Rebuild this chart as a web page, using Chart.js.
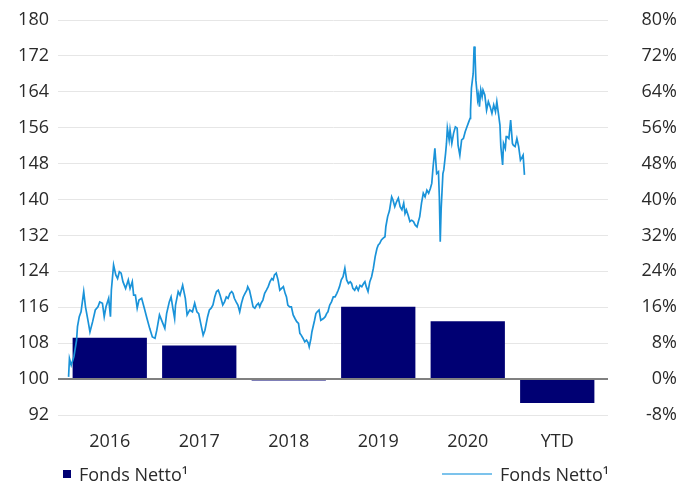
<!DOCTYPE html>
<html>
<head>
<meta charset="utf-8">
<script src="https://cdn.jsdelivr.net/npm/chart.js@4/dist/chart.umd.min.js"></script>
<style>
  html, body { margin: 0; padding: 0; background: #ffffff; }
  #wrap { position: relative; width: 677px; height: 489px; }
  #legend { position: absolute; left: 0; top: 462px; width: 677px; height: 24px;
            font: 18px 'Open Sans', sans-serif; color: #2a2a2a; }
  .item { position: absolute; top: 0; height: 24px; display: flex; align-items: center; white-space: nowrap; }
  .sq { display: inline-block; width: 8px; height: 8px; background: #000073; margin-right: 8px; }
  .ln { display: inline-block; width: 50px; height: 2.5px; background: #7cc3ec; margin-right: 8px; }
</style>
</head>
<body>
<div id="wrap">
  <canvas id="c" width="677" height="489"></canvas>
  <div id="legend"></div>
</div>
<script>
// Calendar-year returns of the fund, in percent (right axis)
const categories = ['2016', '2017', '2018', '2019', '2020', 'YTD'];
const yearlyReturn = [9.2, 7.5, -0.3, 16.1, 12.9, -5.3];

// Indexed fund value (start = 100, left axis), positioned by fractional year
const lineYear = [
  2016.04, 2016.05, 2016.07, 2016.10, 2016.13, 2016.14, 2016.16, 2016.18, 2016.21, 2016.23,
  2016.26, 2016.28, 2016.31, 2016.34, 2016.37, 2016.39, 2016.42, 2016.44, 2016.46, 2016.49,
  2016.51, 2016.52, 2016.545, 2016.57, 2016.59, 2016.61, 2016.63, 2016.65, 2016.68, 2016.71,
  2016.73, 2016.755, 2016.77, 2016.79, 2016.81, 2016.83, 2016.86, 2016.89, 2016.92, 2016.95,
  2016.98, 2017.01, 2017.03, 2017.06, 2017.09, 2017.12, 2017.14, 2017.17, 2017.19, 2017.21,
  2017.23, 2017.24, 2017.27, 2017.29, 2017.32, 2017.35, 2017.37, 2017.40, 2017.43, 2017.455,
  2017.48, 2017.50, 2017.53, 2017.55, 2017.57, 2017.60, 2017.62, 2017.64, 2017.66, 2017.68,
  2017.70, 2017.72, 2017.74, 2017.755, 2017.77, 2017.79, 2017.81, 2017.83, 2017.85, 2017.87,
  2017.885, 2017.90, 2017.92, 2017.94, 2017.96, 2017.98, 2018.00, 2018.02, 2018.04, 2018.05,
  2018.07, 2018.09, 2018.11, 2018.13, 2018.15, 2018.17, 2018.185, 2018.20, 2018.22, 2018.24,
  2018.26, 2018.28, 2018.30, 2018.32, 2018.335, 2018.35, 2018.37, 2018.39, 2018.41, 2018.45,
  2018.47, 2018.485, 2018.50, 2018.52, 2018.54, 2018.56, 2018.58, 2018.60, 2018.62, 2018.635,
  2018.65, 2018.67, 2018.69, 2018.71, 2018.73, 2018.74, 2018.76, 2018.77, 2018.80, 2018.815,
  2018.83, 2018.85, 2018.87, 2018.90, 2018.92, 2018.935, 2018.95, 2018.97, 2018.99, 2019.01,
  2019.03, 2019.05, 2019.065, 2019.08, 2019.10, 2019.12, 2019.14, 2019.16, 2019.18, 2019.20,
  2019.215, 2019.23, 2019.25, 2019.27, 2019.29, 2019.31, 2019.33, 2019.35, 2019.365, 2019.38,
  2019.40, 2019.42, 2019.44, 2019.46, 2019.48, 2019.50, 2019.515, 2019.53, 2019.55, 2019.57,
  2019.59, 2019.60, 2019.62, 2019.64, 2019.665, 2019.68, 2019.70, 2019.72, 2019.74, 2019.76,
  2019.78, 2019.80, 2019.815, 2019.83, 2019.85, 2019.87, 2019.89, 2019.91, 2019.93, 2019.95,
  2019.965, 2019.98, 2020.00, 2020.02, 2020.04, 2020.06, 2020.08, 2020.10, 2020.115, 2020.13,
  2020.15, 2020.17, 2020.19, 2020.20, 2020.21, 2020.22, 2020.24, 2020.25, 2020.27, 2020.28,
  2020.29, 2020.31, 2020.32, 2020.34, 2020.36, 2020.38, 2020.40, 2020.41, 2020.43, 2020.45,
  2020.47, 2020.49, 2020.51, 2020.53, 2020.545, 2020.55, 2020.56, 2020.58, 2020.59, 2020.60,
  2020.61, 2020.63, 2020.64, 2020.65, 2020.665, 2020.68, 2020.69, 2020.71, 2020.73, 2020.75,
  2020.77, 2020.79, 2020.81, 2020.83, 2020.845, 2020.86, 2020.88, 2020.89, 2020.91, 2020.92,
  2020.94, 2020.95, 2020.96, 2020.98, 2021.00, 2021.02, 2021.03, 2021.05, 2021.07, 2021.09,
  2021.11, 2021.13, 2021.14, 2021.155
];
const lineIndex = [
  100.5, 104.6, 103.1, 105.0, 108.7, 111.7, 113.9, 115.0, 119.5, 116.1,
  112.8, 110.5, 112.8, 115.4, 116.1, 117.2, 116.9, 113.9, 116.1, 118.0,
  113.9, 119.8, 125.4, 123.2, 122.4, 123.9, 123.6, 121.7, 120.2, 122.1,
  120.2, 121.7, 118.7, 118.7, 115.8, 117.6, 118.0, 115.8, 113.5, 111.3,
  109.4, 109.1, 110.9, 114.3, 112.8, 111.3, 114.6, 117.2, 118.3, 115.8,
  113.5, 116.5, 119.5, 118.7, 120.9, 118.0, 114.3, 115.4, 115.0, 116.9,
  115.0, 114.6, 111.7, 109.8, 110.9, 113.9, 115.4, 115.8, 116.5, 118.3,
  119.5, 119.8, 118.7, 117.6, 116.5, 117.2, 118.3, 118.0, 119.1, 119.5,
  119.1, 118.0, 117.2, 116.5, 115.0, 116.9, 118.3, 119.1, 119.8, 120.6,
  119.8, 118.0, 116.1, 115.8, 116.5, 116.9, 116.1, 116.9, 117.6, 119.1,
  119.8, 120.6, 121.7, 122.4, 122.1, 123.2, 123.6, 122.1, 119.8, 120.6,
  119.1, 118.3, 116.5, 116.1, 116.1, 114.3, 113.5, 112.8, 112.4, 110.2,
  109.8, 109.1, 108.3, 108.7, 108.0, 107.2, 109.1, 110.5, 113.1, 114.6,
  115.0, 115.4, 113.1, 113.5, 113.9, 114.6, 115.0, 116.5, 117.2, 118.3,
  118.3, 119.1, 119.8, 120.6, 122.1, 122.8, 124.7, 122.1, 121.3, 121.7,
  121.3, 120.2, 119.8, 120.6, 119.8, 120.9, 120.6, 121.3, 121.7, 120.6,
  119.5, 121.7, 122.8, 124.7, 127.3, 129.1, 129.9, 130.2, 131.0, 131.4,
  131.7, 134.0, 136.2, 137.5, 140.6, 139.9, 138.4, 139.5, 140.3, 138.4,
  137.7, 139.2, 136.9, 137.7, 136.5, 135.1, 135.4, 135.1, 134.3, 133.9,
  135.1, 136.2, 139.2, 141.4, 140.6, 142.1, 141.4, 142.5, 143.6, 147.3,
  151.4, 145.8, 146.2, 140.6, 130.6, 137.7, 145.8, 146.6, 150.3, 152.5,
  155.9, 153.3, 155.5, 152.5, 154.8, 156.2, 155.9, 152.1, 149.9, 153.3,
  153.6, 155.1, 156.2, 157.3, 158.1, 159.9, 164.8, 168.1, 174.1, 172.6,
  166.6, 162.2, 163.3, 160.7, 164.4, 162.9, 164.4, 163.3, 159.9, 161.8,
  160.7, 159.2, 161.1, 159.6, 161.8, 159.6, 156.6, 151.8, 147.7, 152.5,
  151.4, 154.0, 154.0, 153.6, 157.7, 152.5, 152.1, 151.8, 153.6, 151.8,
  148.8, 149.5, 149.9, 145.5
];

// Axis tick values
const indexTicks = [92, 100, 108, 116, 124, 132, 140, 148, 156, 164, 172, 180];
const pctTicks = [-8, 0, 8, 16, 24, 32, 40, 48, 56, 64, 72, 80];

const seriesLabel = 'Fonds Netto\u00B9';
const barColor = '#000073';
const lineColor = '#1a93d9';
const gridColor = '#e6e6e6';
const zeroColor = '#808080';

Chart.defaults.font.family = "'Open Sans', sans-serif";
Chart.defaults.font.size = 18;
Chart.defaults.color = '#2a2a2a';

const linePoints = lineYear.map((x, i) => ({ x: x, y: lineIndex[i] }));

new Chart(document.getElementById('c'), {
  data: {
    labels: categories,
    datasets: [
      {
        type: 'line',
        label: seriesLabel,
        data: linePoints,
        xAxisID: 'xt',
        yAxisID: 'y',
        borderColor: lineColor,
        borderWidth: 1.7,
        pointRadius: 0,
        tension: 0,
        order: 0
      },
      {
        type: 'bar',
        label: seriesLabel,
        data: yearlyReturn,
        xAxisID: 'x',
        yAxisID: 'y1',
        backgroundColor: barColor,
        borderWidth: 0,
        grouped: false,
        barPercentage: 0.83,
        categoryPercentage: 1.0,
        order: 1
      }
    ]
  },
  options: {
    responsive: false,
    animation: false,
    devicePixelRatio: 1,
    layout: { padding: { top: 20, left: 0, right: 0, bottom: 0 } },
    plugins: { legend: { display: false }, tooltip: { enabled: false } },
    scales: {
      x: {
        type: 'category',
        position: 'bottom',
        grid: { display: false },
        border: { display: false },
        ticks: { padding: 8, maxRotation: 0 },
        afterFit: s => { s.height = 74; }
      },
      xt: {
        type: 'linear',
        position: 'bottom',
        display: false,
        min: 2016,
        max: 2022.025
      },
      y: {
        type: 'linear',
        position: 'left',
        min: 92,
        max: 180,
        afterBuildTicks: s => { s.ticks = indexTicks.map(v => ({ value: v })); },
        border: { display: false },
        grid: {
          color: c => (c.tick && c.tick.value === 100 ? zeroColor : gridColor),
          lineWidth: c => (c.tick && c.tick.value === 100 ? 2 : 1),
          drawTicks: true,
          tickLength: 7
        },
        ticks: { padding: 9 },
        afterFit: s => { s.width = 65; }
      },
      y1: {
        type: 'linear',
        position: 'right',
        min: -8,
        max: 80,
        afterBuildTicks: s => { s.ticks = pctTicks.map(v => ({ value: v })); },
        border: { display: false },
        grid: {
          drawOnChartArea: false,
          color: c => (c.tick && c.tick.value === 0 ? zeroColor : gridColor),
          lineWidth: c => (c.tick && c.tick.value === 0 ? 2 : 1),
          drawTicks: true,
          tickLength: 6
        },
        ticks: {
          padding: 5,
          crossAlign: 'far',
          callback: v => v + '%'
        },
        afterFit: s => { s.width = 75; }
      }
    }
  }
});

// Legend: bar swatch on the left, line swatch on the right
const legend = document.getElementById('legend');
legend.innerHTML =
  '<div class="item" style="left:63px"><span class="sq"></span><span>' + seriesLabel + '</span></div>' +
  '<div class="item" style="left:442px"><span class="ln"></span><span>' + seriesLabel + '</span></div>';
</script>
</body>
</html>
